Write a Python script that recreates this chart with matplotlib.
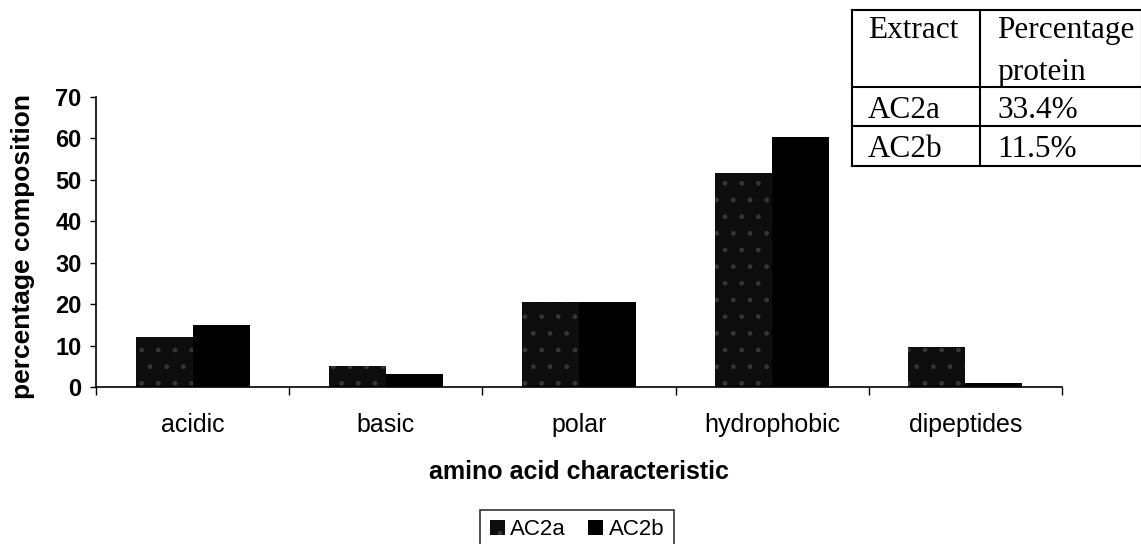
import matplotlib
matplotlib.use("Agg")
import matplotlib.pyplot as plt
import numpy as np

categories = ["acidic", "basic", "polar", "hydrophobic", "dipeptides"]
ac2a = [12.1, 5.1, 20.5, 51.7, 9.7]
ac2b = [15.0, 3.1, 20.5, 60.3, 1.0]
series_names = ["AC2a", "AC2b"]
yticks = [0, 10, 20, 30, 40, 50, 60, 70]
table_header = ["Extract", "Percentage", "protein"]
table_rows = [["AC2a", "33.4%"], ["AC2b", "11.5%"]]

W, H = 1141, 544
fig = plt.figure(figsize=(W / 100, H / 100), dpi=100)
ax = fig.add_axes([96 / W, 1 - 387 / H, (1062 - 96) / W, (387 - 97) / H])

x = np.arange(len(categories))
bw = 0.295
b1 = ax.bar(x - bw / 2, ac2a, bw, color="#0d0d0d", edgecolor="#363636", hatch=".", linewidth=0, label=series_names[0])
b2 = ax.bar(x + bw / 2, ac2b, bw, color="#000000", edgecolor="#000000", linewidth=0, label=series_names[1])

ax.set_xlim(-0.5, len(categories) - 0.5)
ax.set_ylim(0, 70)
ax.set_yticks(yticks)
ax.set_yticklabels([str(v) for v in yticks], fontsize=17, fontweight="bold", family="Liberation Sans")
ax.set_xticks(x)
ax.set_xticklabels(categories, fontsize=18, family="Liberation Sans")
ax.set_xticks(np.arange(-0.5, len(categories)), minor=True)
ax.tick_params(axis="x", which="major", length=0, pad=19)
ax.tick_params(axis="x", which="minor", length=5.5, direction="out", width=1)
ax.tick_params(axis="y", length=4.5, direction="out", width=1, pad=6)
for s in ["top", "right"]:
    ax.spines[s].set_visible(False)
for s in ["left", "bottom"]:
    ax.spines[s].set_linewidth(1.2)

ax.set_ylabel("percentage composition", fontsize=19, fontweight="bold", family="Liberation Sans", va="center")
ax.yaxis.set_label_coords((23 - 96) / (1062 - 96), (387 - 246.5) / 290)
ax.set_xlabel("amino acid characteristic", fontsize=18, fontweight="bold", family="Liberation Sans", va="center")
ax.xaxis.set_label_coords(0.5, (387 - 472) / 290)

leg = fig.legend(handles=[b1, b2], labels=series_names, loc="upper center", bbox_to_anchor=(577 / W, 1 - 510 / H),
                 ncol=2, frameon=True, fancybox=False, edgecolor="black",
                 prop={"family": "Liberation Sans", "size": 16}, handlelength=0.68, handleheight=0.68,
                 handletextpad=0.25, columnspacing=1.0, borderpad=0.42, borderaxespad=0)
leg.get_frame().set_linewidth(1.2)

# table
tx0, tx1, tx2 = 852, 980, 1142
ty = [10, 87, 126, 166]
tab = fig.add_axes([0, 0, 1, 1], facecolor="none")
tab.set_xlim(0, W)
tab.set_ylim(H, 0)
tab.axis("off")
for yy in ty:
    tab.plot([tx0, tx2], [yy, yy], color="black", lw=1.5)
for xx in [tx0, tx1, tx2]:
    tab.plot([xx, xx], [ty[0], ty[-1]], color="black", lw=1.5)
tf = dict(family="Liberation Serif", fontsize=22.5, va="baseline", ha="left")
tab.text(tx0 + 16, 38, table_header[0], **tf)
tab.text(tx1 + 17, 38, table_header[1], **tf)
tab.text(tx1 + 17, 80, table_header[2], **tf)
for i, row in enumerate(table_rows):
    tab.text(tx0 + 16, 118 + 39 * i, row[0], **tf)
    tab.text(tx1 + 17, 118 + 39 * i, row[1], **tf)

fig.savefig("out.png", dpi=100, facecolor="white")
